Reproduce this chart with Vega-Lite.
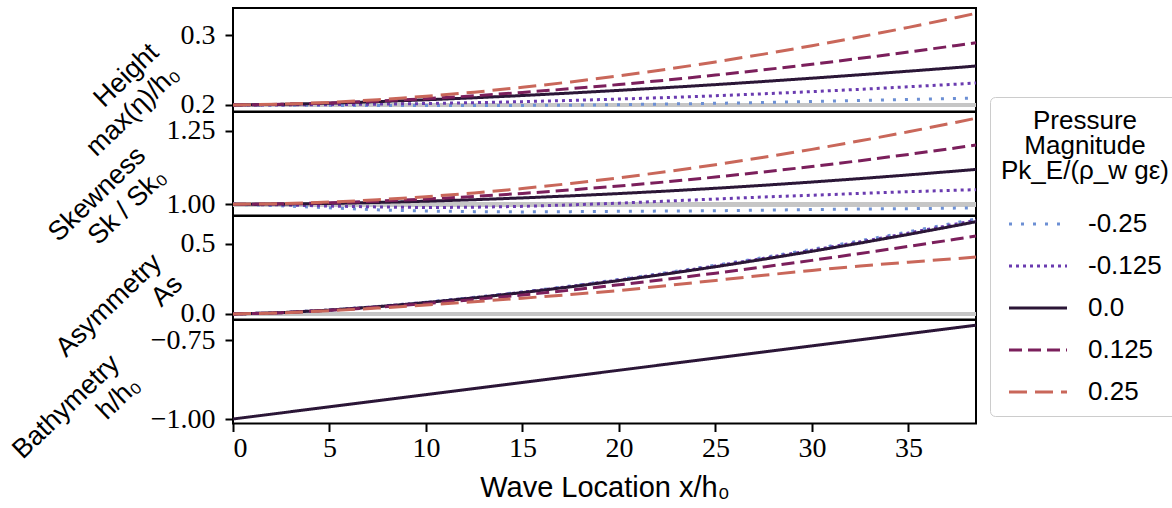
{
"$schema": "https://vega.github.io/schema/vega-lite/v6.json",
"background": "white",
"padding": {"left": 6, "top": 6, "right": 4, "bottom": 0},
"bounds": "flush",
"datasets": {"d": [
{"x":0,"P":"-0.25","H":0.2,"S":1,"A":0},
{"x":2.5,"P":"-0.25","H":0.1998,"S":0.995,"A":0.0098},
{"x":5,"P":"-0.25","H":0.1995,"S":0.988,"A":0.0288},
{"x":7.5,"P":"-0.25","H":0.1993,"S":0.981,"A":0.0539},
{"x":10,"P":"-0.25","H":0.1992,"S":0.977,"A":0.0842},
{"x":12.5,"P":"-0.25","H":0.1992,"S":0.975,"A":0.1189},
{"x":15,"P":"-0.25","H":0.1994,"S":0.974,"A":0.1578},
{"x":17.5,"P":"-0.25","H":0.1997,"S":0.975,"A":0.2003},
{"x":20,"P":"-0.25","H":0.2005,"S":0.976,"A":0.2464},
{"x":22.5,"P":"-0.25","H":0.2014,"S":0.977,"A":0.2958},
{"x":25,"P":"-0.25","H":0.2024,"S":0.978,"A":0.3483},
{"x":27.5,"P":"-0.25","H":0.2036,"S":0.98,"A":0.4037},
{"x":30,"P":"-0.25","H":0.205,"S":0.982,"A":0.462},
{"x":32.5,"P":"-0.25","H":0.2065,"S":0.984,"A":0.523},
{"x":35,"P":"-0.25","H":0.208,"S":0.985,"A":0.5867},
{"x":37.5,"P":"-0.25","H":0.2094,"S":0.987,"A":0.6528},
{"x":38.5,"P":"-0.25","H":0.21,"S":0.988,"A":0.6801},
{"x":0,"P":"-0.125","H":0.2,"S":1,"A":0},
{"x":2.5,"P":"-0.125","H":0.2001,"S":0.998,"A":0.0097},
{"x":5,"P":"-0.125","H":0.2005,"S":0.994,"A":0.0284},
{"x":7.5,"P":"-0.125","H":0.2012,"S":0.991,"A":0.0531},
{"x":10,"P":"-0.125","H":0.2021,"S":0.989,"A":0.083},
{"x":12.5,"P":"-0.125","H":0.2033,"S":0.99,"A":0.1172},
{"x":15,"P":"-0.125","H":0.2048,"S":0.993,"A":0.1555},
{"x":17.5,"P":"-0.125","H":0.2065,"S":0.998,"A":0.1974},
{"x":20,"P":"-0.125","H":0.2085,"S":1.004,"A":0.2429},
{"x":22.5,"P":"-0.125","H":0.2107,"S":1.011,"A":0.2915},
{"x":25,"P":"-0.125","H":0.2132,"S":1.018,"A":0.3432},
{"x":27.5,"P":"-0.125","H":0.216,"S":1.025,"A":0.3978},
{"x":30,"P":"-0.125","H":0.2191,"S":1.031,"A":0.4553},
{"x":32.5,"P":"-0.125","H":0.2224,"S":1.037,"A":0.5154},
{"x":35,"P":"-0.125","H":0.226,"S":1.043,"A":0.5782},
{"x":37.5,"P":"-0.125","H":0.2298,"S":1.048,"A":0.6434},
{"x":38.5,"P":"-0.125","H":0.2314,"S":1.05,"A":0.6702},
{"x":0,"P":"0.0","H":0.2,"S":1,"A":0,"B":-1},
{"x":2.5,"P":"0.0","H":0.2009,"S":1.0009,"A":0.0095,"B":-0.9807},
{"x":5,"P":"0.0","H":0.2026,"S":1.003,"A":0.0279,"B":-0.9614},
{"x":7.5,"P":"0.0","H":0.2048,"S":1.0063,"A":0.0522,"B":-0.9421},
{"x":10,"P":"0.0","H":0.2074,"S":1.0105,"A":0.0816,"B":-0.9229},
{"x":12.5,"P":"0.0","H":0.2103,"S":1.0157,"A":0.1152,"B":-0.9036},
{"x":15,"P":"0.0","H":0.2135,"S":1.0218,"A":0.1529,"B":-0.8843},
{"x":17.5,"P":"0.0","H":0.2171,"S":1.0288,"A":0.1941,"B":-0.865},
{"x":20,"P":"0.0","H":0.2209,"S":1.0366,"A":0.2388,"B":-0.8457},
{"x":22.5,"P":"0.0","H":0.2249,"S":1.0452,"A":0.2866,"B":-0.8264},
{"x":25,"P":"0.0","H":0.2291,"S":1.0547,"A":0.3375,"B":-0.8071},
{"x":27.5,"P":"0.0","H":0.2336,"S":1.0649,"A":0.3912,"B":-0.7879},
{"x":30,"P":"0.0","H":0.2383,"S":1.0759,"A":0.4477,"B":-0.7686},
{"x":32.5,"P":"0.0","H":0.2432,"S":1.0877,"A":0.5068,"B":-0.7493},
{"x":35,"P":"0.0","H":0.2483,"S":1.1002,"A":0.5685,"B":-0.73},
{"x":37.5,"P":"0.0","H":0.2535,"S":1.1135,"A":0.6326,"B":-0.7107},
{"x":38.5,"P":"0.0","H":0.2557,"S":1.119,"A":0.659,"B":-0.703},
{"x":0,"P":"0.125","H":0.2,"S":1,"A":0},
{"x":2.5,"P":"0.125","H":0.2009,"S":1.0015,"A":0.0092},
{"x":5,"P":"0.125","H":0.2028,"S":1.0051,"A":0.0261},
{"x":7.5,"P":"0.125","H":0.2055,"S":1.0106,"A":0.0479},
{"x":10,"P":"0.125","H":0.209,"S":1.0179,"A":0.0737},
{"x":12.5,"P":"0.125","H":0.2131,"S":1.0267,"A":0.103},
{"x":15,"P":"0.125","H":0.2179,"S":1.037,"A":0.1355},
{"x":17.5,"P":"0.125","H":0.2233,"S":1.0489,"A":0.1707},
{"x":20,"P":"0.125","H":0.2292,"S":1.0622,"A":0.2085},
{"x":22.5,"P":"0.125","H":0.2357,"S":1.0768,"A":0.2488},
{"x":25,"P":"0.125","H":0.2427,"S":1.0929,"A":0.2915},
{"x":27.5,"P":"0.125","H":0.2502,"S":1.1102,"A":0.3363},
{"x":30,"P":"0.125","H":0.2582,"S":1.1289,"A":0.3831},
{"x":32.5,"P":"0.125","H":0.2667,"S":1.1489,"A":0.432},
{"x":35,"P":"0.125","H":0.2757,"S":1.1702,"A":0.4828},
{"x":37.5,"P":"0.125","H":0.2851,"S":1.1927,"A":0.5354},
{"x":38.5,"P":"0.125","H":0.289,"S":1.202,"A":0.557},
{"x":0,"P":"0.25","H":0.2,"S":1,"A":0},
{"x":2.5,"P":"0.25","H":0.2011,"S":1.0021,"A":0.008},
{"x":5,"P":"0.25","H":0.2037,"S":1.0075,"A":0.023},
{"x":7.5,"P":"0.25","H":0.2075,"S":1.0154,"A":0.042},
{"x":10,"P":"0.25","H":0.2124,"S":1.0259,"A":0.064},
{"x":12.5,"P":"0.25","H":0.2183,"S":1.0387,"A":0.088},
{"x":15,"P":"0.25","H":0.2252,"S":1.0538,"A":0.113},
{"x":17.5,"P":"0.25","H":0.233,"S":1.071,"A":0.139},
{"x":20,"P":"0.25","H":0.2416,"S":1.0903,"A":0.167},
{"x":22.5,"P":"0.25","H":0.2512,"S":1.1116,"A":0.203},
{"x":25,"P":"0.25","H":0.2615,"S":1.1349,"A":0.24},
{"x":27.5,"P":"0.25","H":0.2727,"S":1.1602,"A":0.277},
{"x":30,"P":"0.25","H":0.2847,"S":1.1873,"A":0.311},
{"x":32.5,"P":"0.25","H":0.2974,"S":1.2164,"A":0.343},
{"x":35,"P":"0.25","H":0.3109,"S":1.2472,"A":0.37},
{"x":37.5,"P":"0.25","H":0.3251,"S":1.2799,"A":0.396},
{"x":38.5,"P":"0.25","H":0.331,"S":1.2935,"A":0.407}
]},
"spacing": 0,
"vconcat": [
{
 "width": 743, "height": 103.5,
 "data": {"name": "d"},
 "layer": [
  {"mark": {"type": "rule", "color": "#c6c6c6", "strokeWidth": 4},
   "encoding": {"y": {"datum": 0.2, "type": "quantitative", "scale": {"domain": [0.1907, 0.3386], "nice": false, "zero": false},
     "axis": {"values": [0.2, 0.3], "format": ".1f", "title": ["Height", "max(η)/h₀"], "titleX": -79, "titleY": 40}}}},
  {"mark": {"type": "line", "strokeWidth": 3},
   "encoding": {
    "x": {"field": "x", "type": "quantitative", "scale": {"domain": [0, 38.5], "nice": false}, "axis": null},
    "y": {"field": "H", "type": "quantitative", "scale": {"domain": [0.1907, 0.3386], "nice": false, "zero": false},
     "axis": {"values": [0.2, 0.3], "format": ".1f", "title": ["Height", "max(η)/h₀"], "titleX": -79, "titleY": 40}},
    "color": {"field": "P", "type": "nominal", "scale": {"domain": ["-0.25","-0.125","0.0","0.125","0.25"], "range": ["#6c8fd4","#6a3bb0","#2b1637","#7b1f5c","#c9675a"]}, "legend": {"title": ["Pressure","Magnitude","Pk_E/(ρ_w gε)"]}},
    "strokeDash": {"field": "P", "type": "nominal", "scale": {"domain": ["-0.25","-0.125","0.0","0.125","0.25"], "range": [[3,9],[3,4],[1,0],[13,6],[18,8]]}, "legend": {"title": ["Pressure","Magnitude","Pk_E/(ρ_w gε)"]}}
   }}
 ]
},
{
 "width": 743, "height": 103.5,
 "data": {"name": "d"},
 "layer": [
  {"mark": {"type": "rule", "color": "#c6c6c6", "strokeWidth": 4},
   "encoding": {"y": {"datum": 1.0, "type": "quantitative", "scale": {"domain": [0.9618, 1.3148], "nice": false, "zero": false},
     "axis": {"values": [1.0, 1.25], "format": ".2f", "title": ["Skewness", "Sk / Sk₀"], "titleX": -92, "titleY": 39}}}},
  {"mark": {"type": "line", "strokeWidth": 3},
   "encoding": {
    "x": {"field": "x", "type": "quantitative", "scale": {"domain": [0, 38.5], "nice": false}, "axis": null},
    "y": {"field": "S", "type": "quantitative", "scale": {"domain": [0.9618, 1.3148], "nice": false, "zero": false},
     "axis": {"values": [1.0, 1.25], "format": ".2f", "title": ["Skewness", "Sk / Sk₀"], "titleX": -92, "titleY": 39}},
    "color": {"field": "P", "type": "nominal", "scale": {"domain": ["-0.25","-0.125","0.0","0.125","0.25"], "range": ["#6c8fd4","#6a3bb0","#2b1637","#7b1f5c","#c9675a"]}, "legend": {"title": ["Pressure","Magnitude","Pk_E/(ρ_w gε)"]}},
    "strokeDash": {"field": "P", "type": "nominal", "scale": {"domain": ["-0.25","-0.125","0.0","0.125","0.25"], "range": [[3,9],[3,4],[1,0],[13,6],[18,8]]}, "legend": {"title": ["Pressure","Magnitude","Pk_E/(ρ_w gε)"]}}
   }}
 ]
},
{
 "width": 743, "height": 103.5,
 "data": {"name": "d"},
 "layer": [
  {"mark": {"type": "rule", "color": "#c6c6c6", "strokeWidth": 4},
   "encoding": {"y": {"datum": 0.0, "type": "quantitative", "scale": {"domain": [-0.0393, 0.7], "nice": false, "zero": false},
     "axis": {"values": [0.0, 0.5], "format": ".1f", "title": ["Asymmetry", "As"], "titleX": -76, "titleY": 42}}}},
  {"mark": {"type": "line", "strokeWidth": 3},
   "encoding": {
    "x": {"field": "x", "type": "quantitative", "scale": {"domain": [0, 38.5], "nice": false}, "axis": null},
    "y": {"field": "A", "type": "quantitative", "scale": {"domain": [-0.0393, 0.7], "nice": false, "zero": false},
     "axis": {"values": [0.0, 0.5], "format": ".1f", "title": ["Asymmetry", "As"], "titleX": -76, "titleY": 42}},
    "color": {"field": "P", "type": "nominal", "scale": {"domain": ["-0.25","-0.125","0.0","0.125","0.25"], "range": ["#6c8fd4","#6a3bb0","#2b1637","#7b1f5c","#c9675a"]}, "legend": {"title": ["Pressure","Magnitude","Pk_E/(ρ_w gε)"]}},
    "strokeDash": {"field": "P", "type": "nominal", "scale": {"domain": ["-0.25","-0.125","0.0","0.125","0.25"], "range": [[3,9],[3,4],[1,0],[13,6],[18,8]]}, "legend": {"title": ["Pressure","Magnitude","Pk_E/(ρ_w gε)"]}}
   }}
 ]
},
{
 "width": 743, "height": 103.5,
 "data": {"name": "d"},
 "transform": [{"filter": "datum.P === '0.0'"}],
 "mark": {"type": "line", "strokeWidth": 3},
 "encoding": {
  "x": {"field": "x", "type": "quantitative", "scale": {"domain": [0, 38.5], "nice": false},
   "axis": {"values": [0,5,10,15,20,25,30,35], "format": "d", "title": "Wave Location x/h₀", "titleFont": "Liberation Sans", "titleFontSize": 29, "labelPadding": 3, "titlePadding": 11}},
  "y": {"field": "B", "type": "quantitative", "scale": {"domain": [-1.0142, -0.6867], "nice": false, "zero": false},
   "axis": {"values": [-1.0, -0.75], "format": ".2f", "title": ["Bathymetry", "h/h₀"], "titleX": -118, "titleY": 39}},
  "color": {"field": "P", "type": "nominal", "scale": {"domain": ["-0.25","-0.125","0.0","0.125","0.25"], "range": ["#6c8fd4","#6a3bb0","#2b1637","#7b1f5c","#c9675a"]}, "legend": {"title": ["Pressure","Magnitude","Pk_E/(ρ_w gε)"]}},
  "strokeDash": {"field": "P", "type": "nominal", "scale": {"domain": ["-0.25","-0.125","0.0","0.125","0.25"], "range": [[3,9],[3,4],[1,0],[13,6],[18,8]]}, "legend": {"title": ["Pressure","Magnitude","Pk_E/(ρ_w gε)"]}}
 }
}
],
"resolve": {"scale": {"color": "shared", "strokeDash": "shared"}},
"config": {
 "font": "Liberation Sans",
 "view": {"stroke": "black", "strokeWidth": 2},
 "axis": {"domain": false, "grid": false, "tickColor": "black", "tickSize": 8, "tickWidth": 2,
   "labelColor": "black", "labelFont": "Liberation Serif", "labelFontSize": 28,
   "titleColor": "black", "titleFont": "Liberation Sans", "titleFontSize": 27, "titleFontWeight": "normal"},
 "axisY": {"labelPadding": 10, "titleAngle": -44, "titleAlign": "right", "titleBaseline": "middle", "titleLineHeight": 30},
 "legend": {"orient": "none", "legendX": 757, "legendY": 89,
   "titleFont": "Liberation Sans", "titleFontSize": 26, "titleFontWeight": "normal", "titleColor": "black",
   "titleLineHeight": 25, "titleAnchor": "middle", "titleAlign": "center", "titlePadding": 24,
   "labelFont": "Liberation Sans", "labelFontSize": 26, "labelColor": "black", "labelOffset": 34, "rowPadding": 13,
   "symbolType": "M-2,0H2", "symbolSize": 841, "symbolOffset": 13, "symbolStrokeWidth": 3,
   "padding": 11, "strokeColor": "#cccccc", "fillColor": "white", "cornerRadius": 5}
}
}
